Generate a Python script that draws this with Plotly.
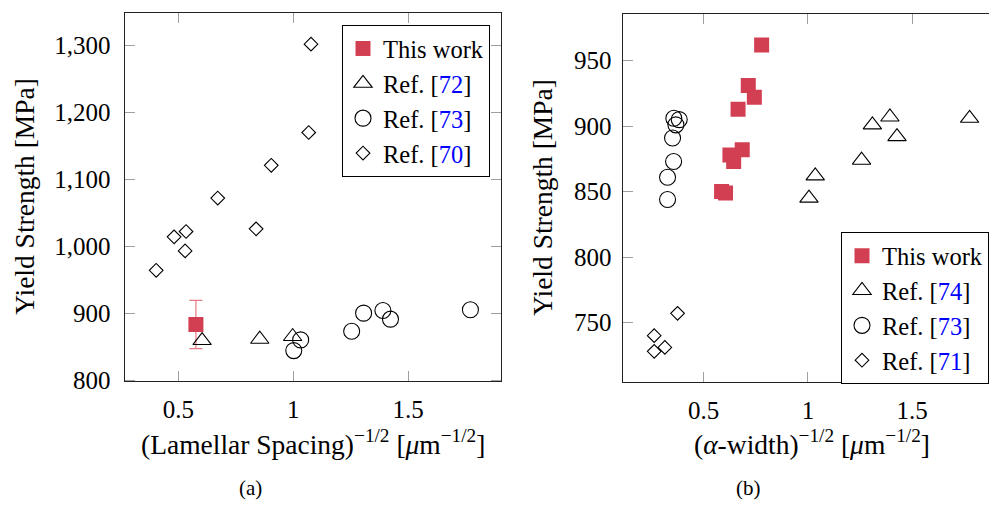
import plotly.graph_objects as go

# ---------------- data: panel (a) ----------------
a_this_x = [0.576]
a_this_y = [883]
a_this_err = [36]

a_ref72_x = [0.603, 0.854, 0.997]
a_ref72_y = [859, 861, 865]

a_ref73_x = [1.002, 1.032, 1.254, 1.306, 1.390, 1.423, 1.771]
a_ref73_y = [844, 860, 873, 900, 904, 891, 905]

a_ref70_x = [1.077, 1.067, 0.904, 0.671, 0.838, 0.481, 0.533, 0.529, 0.403]
a_ref70_y = [1302, 1170, 1121, 1072, 1026, 1014, 1022, 993, 964]

# ---------------- data: panel (b) ----------------
b_this_x = [0.778, 0.714, 0.743, 0.665, 0.685, 0.626, 0.644, 0.586, 0.605]
b_this_y = [962, 931, 922, 913, 882, 878, 873, 850, 849]

b_ref74_x = [1.005, 1.035, 1.257, 1.309, 1.393, 1.427, 1.775]
b_ref74_y = [845, 862, 874, 901, 907, 892, 906]

b_ref73_x = [0.327, 0.327, 0.356, 0.351, 0.367, 0.357, 0.383]
b_ref73_y = [844, 861, 873, 891, 901, 906, 905]

b_ref71_x = [0.375, 0.263, 0.314, 0.263]
b_ref71_y = [757, 740, 731, 728]

# ticks
a_xticks = [0.5, 1, 1.5]
a_xtick_text = ["0.5", "1", "1.5"]
a_yticks = [800, 900, 1000, 1100, 1200, 1300]
a_ytick_text = ["800", "900", "1,000", "1,100", "1,200", "1,300"]
b_xticks = [0.5, 1, 1.5]
b_xtick_text = ["0.5", "1", "1.5"]
b_yticks = [750, 800, 850, 900, 950]
b_ytick_text = ["750", "800", "850", "900", "950"]

RED = "rgb(211,63,82)"
ERR = "rgb(232,120,134)"
FONT = "Liberation Serif"
W, H = 989, 510


def ref_name(num):
    return 'Ref. [<span style="color:#0000ff">%s</span>]' % num


fig = go.Figure()

open_line = dict(color="black", width=1.1)
SQ, TRI, CIR, DIA = 15, 16, 16, 10.5

# panel (a)
fig.add_trace(go.Scatter(
    x=a_this_x, y=a_this_y, mode="markers", name="This work",
    marker=dict(symbol="square", size=SQ, color=RED, line=dict(width=0)),
    error_y=dict(type="data", array=a_this_err, color=ERR, thickness=1.2, width=6.5),
    xaxis="x", yaxis="y", legend="legend"))
fig.add_trace(go.Scatter(
    x=a_ref72_x, y=a_ref72_y, mode="markers", name=ref_name(72),
    marker=dict(symbol="triangle-up-open", size=TRI, color="black", line=open_line),
    xaxis="x", yaxis="y", legend="legend"))
fig.add_trace(go.Scatter(
    x=a_ref73_x, y=a_ref73_y, mode="markers", name=ref_name(73),
    marker=dict(symbol="circle-open", size=CIR, color="black", line=open_line),
    xaxis="x", yaxis="y", legend="legend"))
fig.add_trace(go.Scatter(
    x=a_ref70_x, y=a_ref70_y, mode="markers", name=ref_name(70),
    marker=dict(symbol="diamond-open", size=DIA, color="black", line=open_line),
    xaxis="x", yaxis="y", legend="legend"))

# panel (b)
fig.add_trace(go.Scatter(
    x=b_this_x, y=b_this_y, mode="markers", name="This work",
    marker=dict(symbol="square", size=SQ, color=RED, line=dict(width=0)),
    xaxis="x2", yaxis="y2", legend="legend2"))
fig.add_trace(go.Scatter(
    x=b_ref74_x, y=b_ref74_y, mode="markers", name=ref_name(74),
    marker=dict(symbol="triangle-up-open", size=TRI, color="black", line=open_line),
    xaxis="x2", yaxis="y2", legend="legend2"))
fig.add_trace(go.Scatter(
    x=b_ref73_x, y=b_ref73_y, mode="markers", name=ref_name(73),
    marker=dict(symbol="circle-open", size=CIR, color="black", line=open_line),
    xaxis="x2", yaxis="y2", legend="legend2"))
fig.add_trace(go.Scatter(
    x=b_ref71_x, y=b_ref71_y, mode="markers", name=ref_name(71),
    marker=dict(symbol="diamond-open", size=DIA, color="black", line=open_line),
    xaxis="x2", yaxis="y2", legend="legend2"))

tickfont = dict(family=FONT, size=25, color="black")
common = dict(showgrid=False, zeroline=False, showline=True, linecolor="#222",
              linewidth=1.3, ticks="inside", ticklen=10, tickwidth=1.2,
              tickcolor="#a0a0a0", tickfont=tickfont)

legend_common = dict(font=dict(family=FONT, size=24.5, color="black"),
                     bgcolor="white", bordercolor="black", borderwidth=1,
                     xanchor="right", yanchor="top", tracegroupgap=0,
                     itemsizing="trace")

fig.update_layout(
    width=W, height=H, margin=dict(l=0, r=0, t=0, b=0),
    paper_bgcolor="white", plot_bgcolor="white",
    font=dict(family=FONT, color="black"),
    xaxis=dict(domain=[124.7 / W, 501.2 / W], range=[0.266, 1.905],
               tickvals=a_xticks, ticktext=a_xtick_text, mirror="ticks",
               anchor="y", ticklabelstandoff=6, **common),
    yaxis=dict(domain=[1 - 391 / H, 1 - 13 / H], range=[798.5, 1349.1],
               tickvals=a_yticks, ticktext=a_ytick_text, mirror="ticks",
               anchor="x", ticklabelstandoff=8, **common),
    xaxis2=dict(domain=[622.7 / W, 1.0], range=[0.112, 1.868],
                tickvals=b_xticks, ticktext=b_xtick_text, mirror="ticks",
                anchor="y2", ticklabelstandoff=6, **common),
    yaxis2=dict(domain=[1 - 391.7 / H, 1 - 14 / H], range=[704.8, 985.95],
                tickvals=b_yticks, ticktext=b_ytick_text, mirror=False,
                anchor="x2", ticklabelstandoff=5, **common),
    legend=dict(x=490 / W, y=1 - 25.7 / H, **legend_common),
    legend2=dict(x=989 / W, y=1 - 238.3 / H, **legend_common),
    showlegend=True,
)

title_font = dict(family=FONT, size=27.5, color="black")
ann = [
    dict(text="Yield Strength [MPa]", x=25 / W, y=1 - 202 / H, textangle=-90),
    dict(text="Yield Strength [MPa]", x=543 / W, y=1 - 203 / H, textangle=-90),
    dict(text="(Lamellar Spacing)<sup>−1/2</sup> [<i>μ</i>m<sup>−1/2</sup>]",
         x=313 / W, y=1 - 454 / H),
    dict(text="(<i>α</i>-width)<sup>−1/2</sup> [<i>μ</i>m<sup>−1/2</sup>]",
         x=812 / W, y=1 - 454 / H),
]
for a in ann:
    fig.add_annotation(xref="paper", yref="paper", showarrow=False,
                       xanchor="center", yanchor="middle", font=title_font, **a)
for txt, xc in (("(a)", 250), ("(b)", 748)):
    fig.add_annotation(xref="paper", yref="paper", showarrow=False, text=txt,
                       x=xc / W, y=1 - 501 / H, xanchor="center", yanchor="middle",
                       font=dict(family=FONT, size=21, color="black"))

fig.write_html("out.html")
